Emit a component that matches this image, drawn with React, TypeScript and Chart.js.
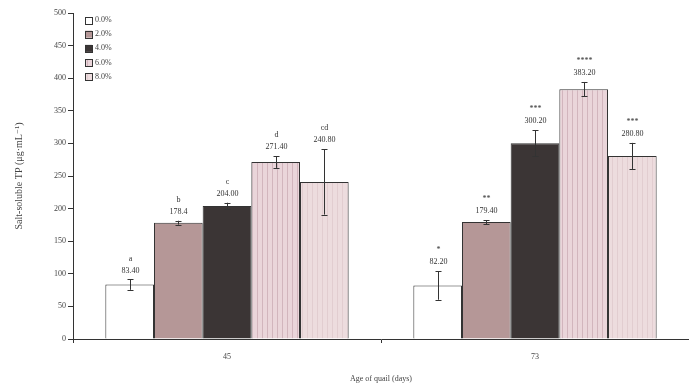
import { useEffect, useRef } from "react";
import { Chart, registerables } from "chart.js";
Chart.register(...registerables);

const categories = ["45", "73"];
const seriesLabels = ["0.0%", "2.0%", "4.0%", "6.0%", "8.0%"];
const values0 = [83.4, 82.2];
const values2 = [178.4, 179.4];
const values4 = [204.0, 300.2];
const values6 = [271.4, 383.2];
const values8 = [240.8, 280.8];
const errors0 = [8, 22];
const errors2 = [3, 3];
const errors4 = [5, 20];
const errors6 = [9, 11];
const errors8 = [50, 20];
const letters0 = ["a", "*"];
const letters2 = ["b", "**"];
const letters4 = ["c", "***"];
const letters6 = ["d", "****"];
const letters8 = ["cd", "***"];
const texts0 = ["83.40", "82.20"];
const texts2 = ["178.4", "179.40"];
const texts4 = ["204.00", "300.20"];
const texts6 = ["271.40", "383.20"];
const texts8 = ["240.80", "280.80"];
const yMin = 0;
const yMax = 500;
const yStep = 50;

const FONT = "'Liberation Serif', 'DejaVu Serif', serif";
const INK = "#333333";

function stripePattern(base: string, stripe: string): CanvasPattern | string {
  const c = document.createElement("canvas");
  c.width = 5;
  c.height = 10;
  const g = c.getContext("2d");
  if (!g) return base;
  g.fillStyle = base;
  g.fillRect(0, 0, 5, 10);
  g.fillStyle = stripe;
  g.fillRect(2, 0, 1, 10);
  const p = g.createPattern(c, "repeat");
  return p || base;
}

export default function App() {
  const ref = useRef<HTMLCanvasElement | null>(null);

  useEffect(() => {
    if (!ref.current) return;
    const allValues = [values0, values2, values4, values6, values8];
    const allErrors = [errors0, errors2, errors4, errors6, errors8];
    const allLetters = [letters0, letters2, letters4, letters6, letters8];
    const allTexts = [texts0, texts2, texts4, texts6, texts8];
    const fills: (string | CanvasPattern)[] = [
      "#ffffff",
      "#b59797",
      "#3b3535",
      stripePattern("#ead5da", "#d2b5bd"),
      stripePattern("#eddcde", "#e2cdd0"),
    ];

    const annot = {
      id: "annot",
      afterDatasetsDraw(chart: any) {
        const ctx = chart.ctx;
        const ys = chart.scales.y;
        ctx.save();
        ctx.strokeStyle = INK;
        ctx.fillStyle = "#333";
        ctx.lineWidth = 1;
        ctx.font = `8px ${FONT}`;
        ctx.textAlign = "center";
        ctx.textBaseline = "middle";
        chart.data.datasets.forEach((ds: any, i: number) => {
          const meta = chart.getDatasetMeta(i);
          meta.data.forEach((el: any, j: number) => {
            const v = allValues[i][j];
            const e = allErrors[i][j];
            const x = Math.round(el.x) + 0.5;
            const yt = ys.getPixelForValue(v + e);
            const yb = ys.getPixelForValue(v - e);
            ctx.beginPath();
            ctx.moveTo(x, yt);
            ctx.lineTo(x, yb);
            ctx.moveTo(x - 3, Math.round(yt) + 0.5);
            ctx.lineTo(x + 3, Math.round(yt) + 0.5);
            ctx.moveTo(x - 3, Math.round(yb) + 0.5);
            ctx.lineTo(x + 3, Math.round(yb) + 0.5);
            ctx.stroke();
            ctx.fillText(allTexts[i][j], x, yt - 9);
            ctx.fillText(allLetters[i][j], x, yt - 21);
          });
        });
        ctx.restore();
      },
      afterDraw(chart: any) {
        const ctx = chart.ctx;
        ctx.save();
        ctx.font = `8px ${FONT}`;
        ctx.textAlign = "left";
        ctx.textBaseline = "middle";
        chart.data.datasets.forEach((ds: any, i: number) => {
          const cy = 20 + i * 14.2;
          ctx.fillStyle = ds.backgroundColor;
          ctx.fillRect(85, cy - 3.5, 7, 7);
          ctx.strokeStyle = INK;
          ctx.lineWidth = 1;
          ctx.strokeRect(85.5, Math.round(cy - 3.5) + 0.5, 7, 7);
          ctx.fillStyle = "#444";
          ctx.fillText(ds.label, 95, cy);
        });
        ctx.restore();
      },
    };

    const chart = new Chart(ref.current, {
      type: "bar",
      data: {
        labels: categories,
        datasets: seriesLabels.map((lab, i) => ({
          label: lab,
          data: allValues[i],
          backgroundColor: fills[i] as any,
          borderColor: INK,
          borderWidth: 1,
          borderSkipped: "bottom",
          categoryPercentage: 0.79,
          barPercentage: 1.0,
        })),
      },
      options: {
        responsive: false,
        animation: false,
        layout: { padding: { top: 13, left: 0, right: 0, bottom: 0 } },
        plugins: {
          legend: { display: false },
          tooltip: { enabled: false },
          title: { display: false },
        },
        scales: {
          x: {
            afterFit: (s: any) => {
              s.height = 50;
            },
            grid: {
              display: true,
              drawOnChartArea: false,
              drawTicks: true,
              tickLength: 4,
              color: INK,
            },
            border: { display: true, color: INK, width: 1 },
            ticks: {
              color: "#444",
              font: { family: FONT, size: 8 },
              padding: 9,
            },
            title: {
              display: true,
              text: "Age of quail (days)",
              color: "#444",
              font: { family: FONT, size: 8 },
              padding: { top: 4, bottom: 5 },
            },
          },
          y: {
            min: yMin,
            max: yMax,
            afterFit: (s: any) => {
              s.width = 73;
            },
            grid: {
              display: true,
              drawOnChartArea: false,
              drawTicks: true,
              tickLength: 5,
              color: INK,
            },
            border: { display: true, color: INK, width: 1 },
            ticks: {
              stepSize: yStep,
              color: "#444",
              font: { family: FONT, size: 8 },
              padding: 2,
            },
            title: {
              display: true,
              text: "Salt-soluble TP (μg·mL⁻¹)",
              color: "#444",
              font: { family: FONT, size: 10 },
              padding: { top: 13, bottom: 0 },
            },
          },
        },
      },
      plugins: [annot],
    });
    return () => chart.destroy();
  }, []);

  return (
    <div style={{ position: "absolute", left: 0, top: 0, width: 689, height: 389, background: "#fff" }}>
      <canvas ref={ref} width={689} height={389} style={{ display: "block" }} />
    </div>
  );
}
